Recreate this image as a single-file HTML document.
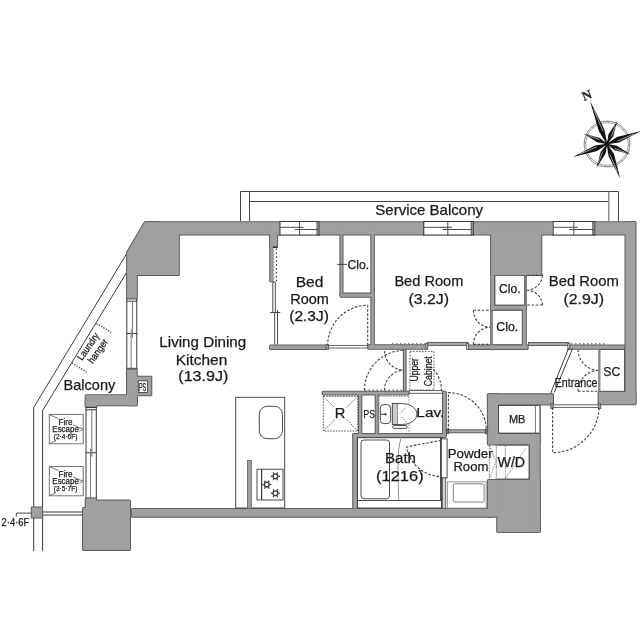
<!DOCTYPE html>
<html><head><meta charset="utf-8">
<style>
html,body{margin:0;padding:0;background:#fff;width:640px;height:640px;overflow:hidden}
svg{display:block;will-change:transform}
text{font-family:"Liberation Sans",sans-serif;fill:#1a1a1a;stroke:#1a1a1a;stroke-width:0.25px}
</style></head><body>
<svg width="640" height="640" viewBox="0 0 640 640">
<defs><g id="walls">
  <!-- top wall -->
  <rect x="145.70" y="222.20" width="489.10" height="12.30"/>
  <!-- top-left block -->
  <polygon points="144.8,222.2 127.1,252.2 127.1,298 136.8,298 136.8,275 178.8,275 178.8,230 160,230 160,222.2"/>
  <!-- right wall -->
  <rect x="625.50" y="222.20" width="10.00" height="181.60"/>
  <rect x="598.60" y="392.00" width="36.90" height="12.30"/>
  <!-- block between bed2/bed3 -->
  <rect x="491.20" y="230.70" width="50.10" height="44.30"/>
  <rect x="491.20" y="230.70" width="3.10" height="118.60"/>
  <rect x="491.20" y="305.70" width="34.60" height="3.80"/>
  <rect x="522.90" y="305.70" width="2.90" height="42.60"/>
  <rect x="525.30" y="272.70" width="0.50" height="34.60"/>
  <!-- bed3 bottom wall -->
  <rect x="468.70" y="345.40" width="59.00" height="3.50"/>
  <rect x="569.60" y="345.50" width="54.60" height="3.30"/>
  <!-- bed2 bottom -->
  <rect x="368.20" y="345.20" width="58.60" height="3.60"/>
  <!-- bed1 bottom -->
  <rect x="270.10" y="345.40" width="56.60" height="3.60"/>
  <!-- bed1/bed2 wall -->
  <rect x="371.30" y="230.70" width="2.60" height="118.10"/>
  <!-- bed1 clo -->
  <rect x="340.40" y="230.70" width="2.10" height="64.60"/>
  <rect x="340.40" y="293.60" width="31.60" height="3.10"/>
  <!-- bed1 left wall -->
  <rect x="270.20" y="230.70" width="6.90" height="15.60"/>
  <rect x="270.20" y="230.70" width="2.60" height="50.60"/>
  <!-- LDK left -->
  <rect x="127.00" y="369.70" width="9.80" height="35.60"/>
  <rect x="85.70" y="395.20" width="51.10" height="10.10"/>
  <rect x="85.70" y="400.00" width="10.60" height="6.70"/>
  <rect x="136.00" y="376.70" width="15.30" height="18.60"/>
  <!-- lower-left block -->
  <polygon points="85.7,498.6 96.2,498.6 96.2,500.4 130,500.4 130,549.9 83,549.9 83,508 85.7,508"/>
  <!-- bottom wall -->
  <rect x="131.70" y="508.90" width="358.60" height="7.80"/>
  <rect x="487.90" y="479.90" width="51.80" height="36.80"/>
  <rect x="497.20" y="479.90" width="42.50" height="52.20"/>
  <!-- MB -->
  <rect x="487.90" y="394.30" width="65.10" height="10.20"/>
  <rect x="487.90" y="394.30" width="10.60" height="50.00"/>
  <rect x="487.90" y="434.00" width="51.80" height="10.30"/>
  <rect x="529.90" y="434.00" width="9.80" height="98.10"/>
  <!-- lav / bath -->
  <rect x="322.70" y="391.70" width="85.90" height="2.80"/>
  <rect x="443.00" y="391.70" width="2.80" height="44.60"/>
  <rect x="358.90" y="393.70" width="2.40" height="40.60"/>
  <rect x="375.70" y="393.70" width="2.10" height="40.60"/>
  <rect x="353.20" y="433.90" width="92.60" height="3.10"/>
  <rect x="353.20" y="433.90" width="3.60" height="74.60"/>
  <rect x="403.90" y="349.70" width="1.70" height="40.60"/>
  <!-- kitchen thin wall -->
  <rect x="248.20" y="461.20" width="2.40" height="47.60"/>
</g></defs>
<use href="#walls" fill="none" stroke="#5c5c5c" stroke-width="2" stroke-linejoin="bevel"/>
<use href="#walls" fill="#a0a0a0"/>
<rect x="279.3" y="221" width="40.39999999999998" height="14.5" fill="#fff"/>
<rect x="317.09999999999997" y="221" width="2.2" height="14.5" fill="#aaa"/>
<g stroke="#3a3a3a" stroke-width="1" fill="none">
<line x1="279.3" y1="221.5" x2="319.7" y2="221.5"/>
<line x1="279.3" y1="235.0" x2="319.7" y2="235.0"/>
<line x1="279.90000000000003" y1="221" x2="279.90000000000003" y2="235.5" stroke-width="1.2"/>
<line x1="319.09999999999997" y1="221" x2="319.09999999999997" y2="235.5" stroke-width="1.1"/>
<line x1="317.0" y1="221" x2="317.0" y2="235.5" stroke-width="0.9"/>
<line x1="280.3" y1="227.3" x2="303.7" y2="227.3" stroke-width="0.9"/>
<line x1="294.8" y1="229.5" x2="317.7" y2="229.5" stroke-width="0.9"/>
<line x1="299.5" y1="221" x2="299.5" y2="235.5" stroke-width="0.9"/>
</g>
<rect x="423.1" y="221" width="50.799999999999955" height="14.5" fill="#fff"/>
<rect x="471.29999999999995" y="221" width="2.2" height="14.5" fill="#aaa"/>
<g stroke="#3a3a3a" stroke-width="1" fill="none">
<line x1="423.1" y1="221.5" x2="473.9" y2="221.5"/>
<line x1="423.1" y1="235.0" x2="473.9" y2="235.0"/>
<line x1="423.70000000000005" y1="221" x2="423.70000000000005" y2="235.5" stroke-width="1.2"/>
<line x1="473.29999999999995" y1="221" x2="473.29999999999995" y2="235.5" stroke-width="1.1"/>
<line x1="471.2" y1="221" x2="471.2" y2="235.5" stroke-width="0.9"/>
<line x1="424.1" y1="227.3" x2="452.0" y2="227.3" stroke-width="0.9"/>
<line x1="443.1" y1="229.5" x2="471.9" y2="229.5" stroke-width="0.9"/>
<line x1="447.8" y1="221" x2="447.8" y2="235.5" stroke-width="0.9"/>
</g>
<rect x="552.5" y="221" width="43.0" height="14.5" fill="#fff"/>
<rect x="592.9" y="221" width="2.2" height="14.5" fill="#aaa"/>
<g stroke="#3a3a3a" stroke-width="1" fill="none">
<line x1="552.5" y1="221.5" x2="595.5" y2="221.5"/>
<line x1="552.5" y1="235.0" x2="595.5" y2="235.0"/>
<line x1="553.1" y1="221" x2="553.1" y2="235.5" stroke-width="1.2"/>
<line x1="594.9" y1="221" x2="594.9" y2="235.5" stroke-width="1.1"/>
<line x1="592.8" y1="221" x2="592.8" y2="235.5" stroke-width="0.9"/>
<line x1="553.5" y1="227.3" x2="578.0" y2="227.3" stroke-width="0.9"/>
<line x1="569.0999999999999" y1="229.5" x2="593.5" y2="229.5" stroke-width="0.9"/>
<line x1="573.8" y1="221" x2="573.8" y2="235.5" stroke-width="0.9"/>
</g>
<rect x="126.3" y="298.4" width="11.000000000000014" height="70.40000000000003" fill="#fff"/>
<g stroke="#3a3a3a" stroke-width="1" fill="none">
<line x1="126.8" y1="298.4" x2="126.8" y2="368.8"/>
<line x1="136.8" y1="298.4" x2="136.8" y2="368.8"/>
<line x1="126.3" y1="298.9" x2="137.3" y2="298.9"/>
<line x1="126.3" y1="301.2" x2="137.3" y2="301.2"/>
<line x1="126.3" y1="368.3" x2="137.3" y2="368.3"/>
<line x1="126.3" y1="333.6" x2="137.3" y2="333.6"/>
<line x1="132.46" y1="301.2" x2="132.46" y2="337.6" stroke="#777"/>
<line x1="131.14000000000001" y1="329.6" x2="131.14000000000001" y2="368.8" stroke="#777"/>
</g>
<rect x="85.5" y="407" width="11.299999999999997" height="91.5" fill="#fff"/>
<g stroke="#3a3a3a" stroke-width="1" fill="none">
<line x1="86.0" y1="407" x2="86.0" y2="498.5"/>
<line x1="96.3" y1="407" x2="96.3" y2="498.5"/>
<line x1="85.5" y1="407.5" x2="96.8" y2="407.5"/>
<line x1="85.5" y1="409.8" x2="96.8" y2="409.8"/>
<line x1="85.5" y1="498.0" x2="96.8" y2="498.0"/>
<line x1="85.5" y1="452.75" x2="96.8" y2="452.75"/>
<line x1="91.828" y1="409.8" x2="91.828" y2="456.75" stroke="#777"/>
<line x1="90.472" y1="448.75" x2="90.472" y2="498.5" stroke="#777"/>
</g>
<!-- service balcony -->
<g fill="none" stroke="#444" stroke-width="1">
  <path d="M240.5,221 V191.5 H618.5 V221"/>
  <path d="M249.5,221 V191.5 M249.5,201.5 H608.5"/>
  <path d="M608.8,191.5 V221" stroke="#888" stroke-width="1.4"/>
</g>
<!-- balcony left -->
<g fill="none" stroke="#3a3a3a" stroke-width="1">
  <path d="M126.3,254.3 L33.7,407.5 V551"/>
  <path d="M126.3,273 L42.6,410.6 V551"/>
  <path d="M42.6,512 H82.5 M42.6,515 H82.5"/>
</g>
<rect x="31.3" y="507" width="11.2" height="11" fill="#a0a0a0" stroke="#5c5c5c" stroke-width="1"/>
<path d="M16.3,516.6 V513.1 H31.2" fill="none" stroke="#444" stroke-width="1"/>
<!-- laundry hanger dotted lines -->
<g stroke="#444" stroke-width="1.5" stroke-dasharray="1.2 1.5" fill="none">
  <path d="M96.5,323.5 L111,332.3"/>
  <path d="M72,363 L86.5,372"/>
</g>
<!-- fire escape boxes -->
<g fill="none" stroke="#666" stroke-width="0.9">
  <rect x="49.3" y="414.4" width="33.9" height="29.4"/>
  <rect x="49.3" y="466.4" width="33.9" height="29.4"/>
  <path d="M49.5,414.6 L58.4,418.6 M73.2,424.9 L83.2,429.3 L79.5,431.1 M49.5,443.6 L55,441.2"/>
  <path d="M49.5,466.6 L58.4,470.6 M73.2,476.9 L83.2,481.3 L79.5,483.1 M49.5,495.6 L55,493.2"/>
</g>
<path d="M83.4,414.4 V443.8 M83.4,466.4 V495.8" stroke="#999" stroke-width="1.2"/>
<!-- PS box LDK -->
<rect x="138.3" y="380.8" width="9.2" height="11.7" fill="#fff" stroke="#3a3a3a" stroke-width="0.8"/>

<!-- bed1 left sliding door -->
<g fill="none" stroke="#3a3a3a" stroke-width="0.9">
  <rect x="273.5" y="247" width="4.2" height="34.5" fill="#fff" stroke="none"/>
  <path d="M276.4,248.5 V281.5" stroke="#333" stroke-width="1.1" stroke-dasharray="1.6 2.3"/>
  <path d="M274.2,248.5 V281.5" stroke="#aaa" stroke-width="1" stroke-dasharray="1.2 2.7" stroke-dashoffset="-2"/>
  <path d="M273,247.3 H277.7" stroke="#333" stroke-width="1.4"/>
  <path d="M272.8,282 V312.5 M275.3,282 V312.5 M272.8,282 H275.3"/>
  <path d="M274.7,312.5 V344.5 M277.5,310 V344.5"/>
  <path d="M270,312.5 H280.3"/>
</g>
<!-- bed1 clo tick -->
<path d="M337.2,264.4 H347" stroke="#3a3a3a" stroke-width="0.9"/>

<!-- thresholds / sliding bars -->
<g stroke="#555" stroke-width="0.9">
  <rect x="328" y="345.4" width="39.7" height="2.6" fill="#fff"/>
  <rect x="326" y="344.7" width="2.6" height="4.5" fill="#a0a0a0"/>
  <rect x="427.5" y="342.4" width="40.5" height="3" fill="#aaaaaa"/>
  <rect x="426" y="343.3" width="1.8" height="6.1" fill="#ddd"/>
  <rect x="466.6" y="343.3" width="2" height="6.1" fill="#ddd"/>
  <rect x="528.4" y="342.5" width="40.5" height="3" fill="#aaaaaa"/>
  <rect x="567.8" y="343.3" width="2" height="6.1" fill="#ddd"/>
  <rect x="409.3" y="390.6" width="33" height="2.7" fill="#fff"/>
  <rect x="447" y="429.8" width="40" height="3" fill="#aaaaaa"/>
  <rect x="446.5" y="429" width="2.2" height="4.6" fill="#777"/>
  <rect x="485.5" y="429" width="2.2" height="4.6" fill="#777"/>
  <rect x="552" y="404.8" width="47.5" height="2.6" fill="#fff"/>
  <rect x="550.8" y="403.5" width="2.4" height="5" fill="#a0a0a0"/>
  <rect x="598.3" y="403.5" width="2.4" height="5" fill="#a0a0a0"/>
</g>
<!-- dotted wall tops -->
<g stroke="#666" stroke-width="1.3" stroke-dasharray="1.6 2.4" fill="none">
  <path d="M392,343.8 H427"/>
  <path d="M571,343.9 H605"/>
  <path d="M364.5,390.2 H403"/>
</g>
<!-- entrance diagonal -->
<g stroke="#3a3a3a" stroke-width="1" fill="none">
  <path d="M568.7,348 L550.6,393.5"/>
  <path d="M572.6,348.4 L554.2,392.5"/>
</g>
<!-- SC box -->
<rect x="599" y="349.5" width="25.5" height="41.8" fill="#fff" stroke="#555" stroke-width="1"/>
<path d="M599.5,349.5 V391.3" stroke="#8a8a8a" stroke-width="2"/>
<!-- MB box -->
<rect x="498.5" y="405.4" width="41.6" height="27.7" fill="#fff" stroke="#3a3a3a" stroke-width="0.9"/>
<path d="M535.4,405.4 V433.1" stroke="#555" stroke-width="0.8"/><path d="M540.2,405 V433.5" stroke="#777" stroke-width="1.4"/>
<!-- clo boxes -->
<rect x="495" y="275.4" width="29.6" height="29.6" fill="#fff" stroke="#555" stroke-width="0.8"/>
<rect x="492.2" y="310.4" width="30" height="34.2" fill="#fff" stroke="#555" stroke-width="0.8"/>
<!-- R box -->
<g stroke="#444" stroke-width="0.9" fill="none" stroke-dasharray="1.6 1.2">
  <rect x="323.3" y="396.3" width="34.5" height="34.7"/>
  <path d="M323.3,396.3 L357.8,431 M357.8,396.3 L323.3,431"/>
</g>
<rect x="334" y="407.2" width="12.4" height="11.8" fill="#fff"/>
<!-- upper cabinet dotted -->
<rect x="410" y="351.6" width="24" height="38.4" fill="none" stroke="#444" stroke-width="0.9" stroke-dasharray="1.6 1.4"/>
<!-- lav dashed rect -->
<path d="M379,396.3 V432 M409,396.3 V432 M379,396.3 H409" fill="none" stroke="#777" stroke-width="0.8" stroke-dasharray="1.6 1.2"/>
<!-- sink -->
<rect x="380.4" y="404.6" width="10.2" height="19" rx="3.5" fill="#fff" stroke="#3a3a3a" stroke-width="0.9"/>
<path d="M381,414.3 H385.4" stroke="#333" stroke-width="0.9"/>
<circle cx="385.5" cy="414.3" r="1.1" fill="#222"/>
<!-- toilet -->
<rect x="392.3" y="403.4" width="5.6" height="21" fill="#ccc" stroke="#3a3a3a" stroke-width="0.9"/>
<path d="M397.9,403.6 H402.5 A14.5,10.5 0 0 1 402.5,424.6 H397.9" fill="#fff" stroke="#3a3a3a" stroke-width="0.9"/>
<rect x="392.7" y="425.6" width="14.3" height="2.8" rx="1" fill="#fff" stroke="#333" stroke-width="0.9"/>
<path d="M405.4,407.7 L399.8,413.6 M402.3,417 L407.3,423.6" stroke="#555" stroke-width="0.8" stroke-dasharray="1.3 1.1" fill="none"/>

<!-- kitchen -->
<g fill="none" stroke="#3a3a3a" stroke-width="0.9">
  <rect x="235.7" y="397.3" width="49" height="110.7" fill="#fff"/>
  <rect x="259.3" y="406.3" width="23.2" height="32.4" rx="8"/>
  <rect x="257" y="469.2" width="26" height="30.8"/>
  <path d="M261.6,469.2 V500" stroke-width="1.2"/>
</g>
<rect x="247.5" y="460.5" width="3.8" height="48" fill="#a0a0a0" stroke="#5c5c5c" stroke-width="0.8"/>
<circle cx="275.4" cy="476.3" r="2.4" fill="none" stroke="#333" stroke-width="1.3"/>
<line x1="278.30" y1="476.30" x2="280.00" y2="476.30" stroke="#444" stroke-width="1.3"/>
<line x1="276.85" y1="478.81" x2="277.70" y2="480.28" stroke="#444" stroke-width="1.3"/>
<line x1="273.95" y1="478.81" x2="273.10" y2="480.28" stroke="#444" stroke-width="1.3"/>
<line x1="272.50" y1="476.30" x2="270.80" y2="476.30" stroke="#444" stroke-width="1.3"/>
<line x1="273.95" y1="473.79" x2="273.10" y2="472.32" stroke="#444" stroke-width="1.3"/>
<line x1="276.85" y1="473.79" x2="277.70" y2="472.32" stroke="#444" stroke-width="1.3"/>
<circle cx="266.8" cy="484.6" r="2.4" fill="none" stroke="#333" stroke-width="1.3"/>
<line x1="269.70" y1="484.60" x2="271.40" y2="484.60" stroke="#444" stroke-width="1.3"/>
<line x1="268.25" y1="487.11" x2="269.10" y2="488.58" stroke="#444" stroke-width="1.3"/>
<line x1="265.35" y1="487.11" x2="264.50" y2="488.58" stroke="#444" stroke-width="1.3"/>
<line x1="263.90" y1="484.60" x2="262.20" y2="484.60" stroke="#444" stroke-width="1.3"/>
<line x1="265.35" y1="482.09" x2="264.50" y2="480.62" stroke="#444" stroke-width="1.3"/>
<line x1="268.25" y1="482.09" x2="269.10" y2="480.62" stroke="#444" stroke-width="1.3"/>
<circle cx="275.4" cy="493.2" r="2.4" fill="none" stroke="#333" stroke-width="1.3"/>
<line x1="278.30" y1="493.20" x2="280.00" y2="493.20" stroke="#444" stroke-width="1.3"/>
<line x1="276.85" y1="495.71" x2="277.70" y2="497.18" stroke="#444" stroke-width="1.3"/>
<line x1="273.95" y1="495.71" x2="273.10" y2="497.18" stroke="#444" stroke-width="1.3"/>
<line x1="272.50" y1="493.20" x2="270.80" y2="493.20" stroke="#444" stroke-width="1.3"/>
<line x1="273.95" y1="490.69" x2="273.10" y2="489.22" stroke="#444" stroke-width="1.3"/>
<line x1="276.85" y1="490.69" x2="277.70" y2="489.22" stroke="#444" stroke-width="1.3"/>

<!-- bath -->
<g fill="none" stroke="#3a3a3a" stroke-width="0.9">
  <rect x="357.5" y="437.7" width="84" height="70.3" fill="#fff"/>
  <rect x="361" y="440" width="28.5" height="58.8" rx="3"/>
  <path d="M357.5,500.5 H441"/>
  <path d="M440.5,437.7 V500.5"/>
  <!-- powder -->
  <rect x="447.3" y="481.8" width="38.8" height="26.3" stroke="#888"/>
  <rect x="453.3" y="483.8" width="30.8" height="18.2" rx="1" stroke="#777"/>
</g>
<rect x="441.3" y="438.9" width="5.8" height="38.9" fill="#fff" stroke="#3a3a3a" stroke-width="0.9"/>
<rect x="442.5" y="477.8" width="3.2" height="30.5" fill="#d0d0d0" stroke="#555" stroke-width="0.8"/>
<path d="M400.6,439 L398.7,449 L397.9,470 L398.7,500" stroke="#777" stroke-width="0.8" fill="none"/>
<!-- W/D dashed -->
<path d="M495.2,445.3 H527 Q529,445.3 529,447.3 V477 Q529,479 527,479 H495.2" fill="#fff" stroke="#555" stroke-width="0.9"/>
<path d="M496.3,445.5 V479" stroke="#aaa" stroke-width="1"/>
<g fill="none" stroke="#666" stroke-width="0.8" stroke-dasharray="1.6 1.2">
  <path d="M489.3,445 V479 M505.4,445.5 V479 M505.4,478.5 L526,448 M489.5,445.5 L496,461.5 L489.5,478"/>
</g>

<!-- doors -->
<g fill="none" stroke="#444" stroke-width="1.1" stroke-dasharray="2.6 1.6">
  <path d="M367.7,345.3 V305.3 A40,40 0 0 0 327.7,345.3"/>
  <path d="M448.4,430.6 V392.6 A38,38 0 0 1 486.4,430.6"/>
  <path d="M552.6,407.5 V452.6 A46.5,46.5 0 0 0 599.1,406.5"/>
  <path d="M364.4,390.3 A40,40 0 0 1 404.4,350.3"/>
  <path d="M384.4,351 A20,20 0 0 0 403.4,370.3 M384.4,390.3 A20,20 0 0 1 403.4,370.3"/>
  <path d="M441.5,391 A32,32 0 0 0 430,366"/>
  <path d="M473.4,310.3 H490.5 M473.4,344.4 H490.5"/>
  <path d="M441.1,440.3 L406.5,447 A35.5,35.5 0 0 0 441.1,476.5"/>
  <path d="M473.4,310.3 A17,17 0 0 0 490.5,327.3 M473.4,344.4 A17,17 0 0 1 490.5,327.3"/>
  <path d="M542.5,275.4 H526.5 M542.5,305 H526.5"/>
  <path d="M542.5,275.4 A16,16 0 0 1 526.5,290.2 M542.5,305 A16,16 0 0 0 526.5,290.2"/>
  <path d="M578,391.3 H599"/>
  <path d="M578,349.5 A21,21 0 0 0 599,370.4 M578,391.3 A21,21 0 0 1 599,370.4"/>
</g>

<!-- texts -->
<text transform="translate(417.5,369.8) rotate(-90)" font-size="10" text-anchor="middle" textLength="23.5" lengthAdjust="spacingAndGlyphs">Upper</text>
<text transform="translate(431.5,371.2) rotate(-90)" font-size="10.5" text-anchor="middle" textLength="30" lengthAdjust="spacingAndGlyphs">Cabinet</text>
<text transform="translate(90.9,348.4) rotate(-55)" font-size="10" text-anchor="middle" textLength="31" lengthAdjust="spacingAndGlyphs">Laundry</text>
<text transform="translate(100.6,353) rotate(-55)" font-size="10" text-anchor="middle" textLength="27.5" lengthAdjust="spacingAndGlyphs">hanger</text>
<g font-size="9" text-anchor="middle">
<text x="65.5" y="425" textLength="14" lengthAdjust="spacingAndGlyphs">Fire</text>
<text x="65.6" y="432.4" textLength="26.5" lengthAdjust="spacingAndGlyphs">Escape</text>
<text x="65.6" y="438.8" textLength="23.6" lengthAdjust="spacingAndGlyphs" font-size="8">(2·4·6F)</text>
<text x="65.5" y="477" textLength="14" lengthAdjust="spacingAndGlyphs">Fire</text>
<text x="65.6" y="484.4" textLength="26.5" lengthAdjust="spacingAndGlyphs">Escape</text>
<text x="65.6" y="490.8" textLength="23.6" lengthAdjust="spacingAndGlyphs" font-size="8">(3·5·7F)</text>
</g>

<circle cx="607.0" cy="144.0" r="22.9" fill="none" stroke="#777" stroke-width="0.9"/>
<circle cx="607.0" cy="144.0" r="21.3" fill="none" stroke="#888" stroke-width="0.8"/>
<line x1="608.12" y1="122.63" x2="608.20" y2="121.13" stroke="#777" stroke-width="0.8"/>
<line x1="616.21" y1="124.68" x2="616.86" y2="123.33" stroke="#777" stroke-width="0.8"/>
<line x1="622.90" y1="129.68" x2="624.02" y2="128.68" stroke="#777" stroke-width="0.8"/>
<line x1="627.17" y1="136.86" x2="628.59" y2="136.36" stroke="#777" stroke-width="0.8"/>
<line x1="628.37" y1="145.12" x2="629.87" y2="145.20" stroke="#777" stroke-width="0.8"/>
<line x1="626.32" y1="153.21" x2="627.67" y2="153.86" stroke="#777" stroke-width="0.8"/>
<line x1="621.32" y1="159.90" x2="622.32" y2="161.02" stroke="#777" stroke-width="0.8"/>
<line x1="614.14" y1="164.17" x2="614.64" y2="165.59" stroke="#777" stroke-width="0.8"/>
<line x1="605.88" y1="165.37" x2="605.80" y2="166.87" stroke="#777" stroke-width="0.8"/>
<line x1="597.79" y1="163.32" x2="597.14" y2="164.67" stroke="#777" stroke-width="0.8"/>
<line x1="591.10" y1="158.32" x2="589.98" y2="159.32" stroke="#777" stroke-width="0.8"/>
<line x1="586.83" y1="151.14" x2="585.41" y2="151.64" stroke="#777" stroke-width="0.8"/>
<line x1="585.63" y1="142.88" x2="584.13" y2="142.80" stroke="#777" stroke-width="0.8"/>
<line x1="587.68" y1="134.79" x2="586.33" y2="134.14" stroke="#777" stroke-width="0.8"/>
<line x1="592.68" y1="128.10" x2="591.68" y2="126.98" stroke="#777" stroke-width="0.8"/>
<line x1="599.86" y1="123.83" x2="599.36" y2="122.41" stroke="#777" stroke-width="0.8"/>
<polygon points="607.55,145.40 604.19,128.94 589.77,100.27 598.79,131.07" fill="#111"/>
<line x1="602.98" y1="131.03" x2="593.49" y2="108.91" stroke="#fff" stroke-width="0.6"/>
<polygon points="606.39,145.37 613.19,136.23 617.29,120.89 608.63,134.20" fill="#111"/>
<line x1="611.32" y1="136.45" x2="615.46" y2="125.61" stroke="#fff" stroke-width="0.6"/>
<polygon points="605.60,144.54 618.94,142.52 641.08,130.92 616.86,137.11" fill="#111"/>
<line x1="617.18" y1="141.18" x2="634.36" y2="133.81" stroke="#fff" stroke-width="0.6"/>
<polygon points="605.63,143.39 614.84,150.23 630.30,154.37 616.87,145.66" fill="#111"/>
<line x1="614.61" y1="148.35" x2="625.53" y2="152.53" stroke="#fff" stroke-width="0.6"/>
<polygon points="606.46,142.60 608.54,156.09 620.26,178.54 613.95,154.01" fill="#111"/>
<line x1="609.87" y1="154.31" x2="617.34" y2="171.74" stroke="#fff" stroke-width="0.6"/>
<polygon points="607.61,142.63 600.73,151.94 596.51,167.57 605.30,153.97" fill="#111"/>
<line x1="602.61" y1="151.70" x2="598.38" y2="162.75" stroke="#fff" stroke-width="0.6"/>
<polygon points="608.40,143.46 595.06,145.48 572.92,157.08 597.14,150.89" fill="#111"/>
<line x1="596.82" y1="146.82" x2="579.64" y2="154.19" stroke="#fff" stroke-width="0.6"/>
<polygon points="608.37,144.61 599.23,137.81 583.89,133.71 597.20,142.37" fill="#111"/>
<line x1="599.45" y1="139.68" x2="588.61" y2="135.54" stroke="#fff" stroke-width="0.6"/>
<circle cx="607.0" cy="144.0" r="2.2" fill="#111"/>
<text transform="translate(588.5,99.3) rotate(-21)" font-family="Liberation Serif" font-weight="bold" font-size="13" text-anchor="middle" style="font-family:'Liberation Serif',serif">N</text>
<text x="375.32" y="215.1" font-size="15" textLength="107.71" lengthAdjust="spacingAndGlyphs">Service Balcony</text>
<text x="295.72" y="286.7" font-size="14.8" textLength="27.68" lengthAdjust="spacingAndGlyphs">Bed</text>
<text x="290.20" y="304.3" font-size="14.8" textLength="38.74" lengthAdjust="spacingAndGlyphs">Room</text>
<text x="289.23" y="321.3" font-size="14.8" textLength="39.72" lengthAdjust="spacingAndGlyphs">(2.3J)</text>
<text x="394.39" y="286.1" font-size="14.8" textLength="69.05" lengthAdjust="spacingAndGlyphs">Bed Room</text>
<text x="408.41" y="303.8" font-size="14.8" textLength="40.67" lengthAdjust="spacingAndGlyphs">(3.2J)</text>
<text x="548.77" y="286.2" font-size="14.8" textLength="70.19" lengthAdjust="spacingAndGlyphs">Bed Room</text>
<text x="563.41" y="303.8" font-size="14.8" textLength="40.67" lengthAdjust="spacingAndGlyphs">(2.9J)</text>
<text x="347.49" y="269.2" font-size="12" textLength="21.72" lengthAdjust="spacingAndGlyphs">Clo.</text>
<text x="499.10" y="292.8" font-size="12" textLength="21.40" lengthAdjust="spacingAndGlyphs">Clo.</text>
<text x="496.28" y="331.25" font-size="12" textLength="21.94" lengthAdjust="spacingAndGlyphs">Clo.</text>
<text x="159.35" y="347.2" font-size="14.8" textLength="86.91" lengthAdjust="spacingAndGlyphs">Living Dining</text>
<text x="175.83" y="364.8" font-size="14.8" textLength="51.44" lengthAdjust="spacingAndGlyphs">Kitchen</text>
<text x="178.29" y="381.4" font-size="14.8" textLength="50.07" lengthAdjust="spacingAndGlyphs">(13.9J)</text>
<text x="63.60" y="390.4" font-size="14.6" textLength="51.64" lengthAdjust="spacingAndGlyphs">Balcony</text>
<text x="554.72" y="387" font-size="13.6" textLength="42.74" lengthAdjust="spacingAndGlyphs">Entrance</text>
<text x="603.35" y="375.8" font-size="12.5" textLength="17.11" lengthAdjust="spacingAndGlyphs">SC</text>
<text x="508.89" y="422.8" font-size="11" textLength="16.48" lengthAdjust="spacingAndGlyphs">MB</text>
<text x="497.53" y="466.8" font-size="13.8" textLength="27.63" lengthAdjust="spacingAndGlyphs">W/D</text>
<text x="334.69" y="418.4" font-size="14" textLength="10.60" lengthAdjust="spacingAndGlyphs">R</text>
<text x="363.55" y="417.5" font-size="11" textLength="11.32" lengthAdjust="spacingAndGlyphs">PS</text>
<text x="416.33" y="417.4" font-size="13.6" textLength="27.97" lengthAdjust="spacingAndGlyphs">Lav.</text>
<text x="384.96" y="463" font-size="14.5" textLength="31.02" lengthAdjust="spacingAndGlyphs">Bath</text>
<text x="376.07" y="480.6" font-size="14.5" textLength="47.63" lengthAdjust="spacingAndGlyphs">(1216)</text>
<text x="447.65" y="458" font-size="13.2" textLength="45.05" lengthAdjust="spacingAndGlyphs">Powder</text>
<text x="453.42" y="470.75" font-size="13.2" textLength="34.93" lengthAdjust="spacingAndGlyphs">Room</text>
<text x="138.95" y="391.2" font-size="11" textLength="7.29" lengthAdjust="spacingAndGlyphs">PS</text>
<text x="1.53" y="525.5" font-size="10.8" textLength="27.85" lengthAdjust="spacingAndGlyphs">2·4·6F</text>
</svg>
</body></html>
